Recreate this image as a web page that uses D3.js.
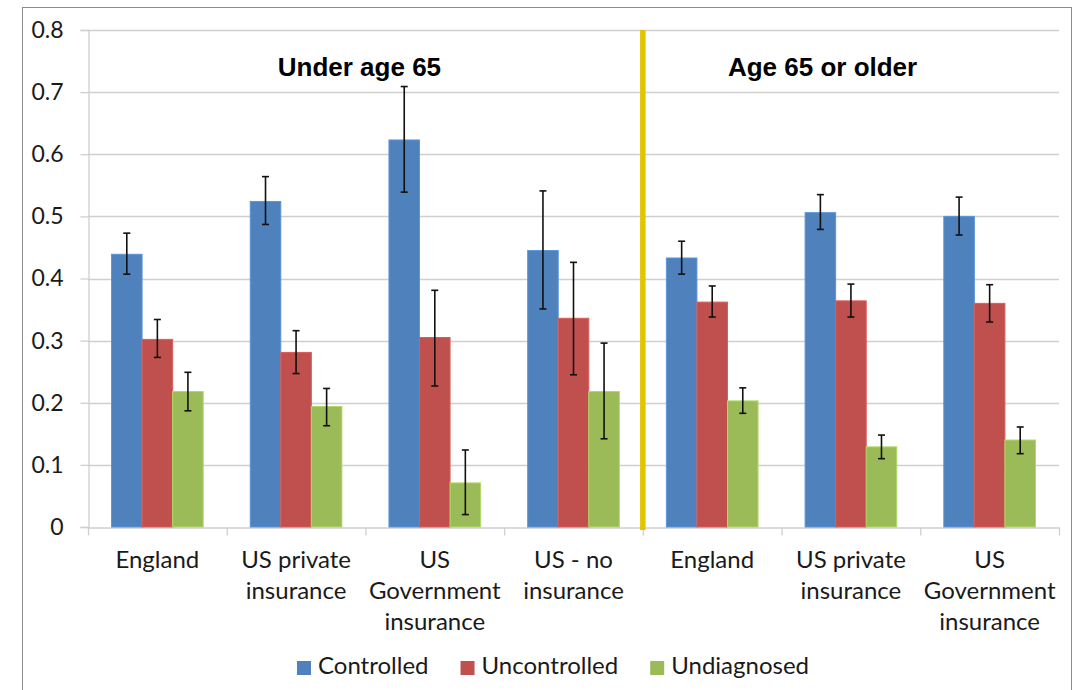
<!DOCTYPE html>
<html lang="en">
  <head>
    <meta charset="utf-8">
    <title>Hypertension control by age and insurance</title>
    <script src="https://d3js.org/d3.v7.min.js"></script>
    <style>
      body { margin: 0; background: #fff; }
      text { font-family: Lato, "Open Sans", sans-serif; fill: #1a1a1a; }
    </style>
  </head>
  <body>
    <script>
      // categories (multi-line labels), 4 under 65, 3 aged 65+
      let categories = ["U65 England", "U65 US private", "U65 US Gov", "U65 US none",
                        "65+ England", "65+ US private", "65+ US Gov"];
      let categoryLabels = [["England"], ["US private", "insurance"], ["US", "Government", "insurance"],
                            ["US - no", "insurance"], ["England"], ["US private", "insurance"],
                            ["US", "Government", "insurance"]];
      let seriesNames = ["Controlled", "Uncontrolled", "Undiagnosed"];
      let seriesColors = ["#4f81bd", "#c0504d", "#9bbb59"];

      let controlled     = [0.439, 0.524, 0.623, 0.445, 0.433, 0.506, 0.500];
      let controlledLow  = [0.407, 0.487, 0.539, 0.351, 0.407, 0.479, 0.470];
      let controlledHigh = [0.473, 0.564, 0.709, 0.541, 0.460, 0.535, 0.531];

      let uncontrolled     = [0.302, 0.281, 0.305, 0.336, 0.362, 0.364, 0.360];
      let uncontrolledLow  = [0.273, 0.247, 0.227, 0.245, 0.338, 0.338, 0.330];
      let uncontrolledHigh = [0.334, 0.316, 0.381, 0.426, 0.388, 0.391, 0.390];

      let undiagnosed     = [0.218, 0.194, 0.071, 0.218, 0.203, 0.129, 0.140];
      let undiagnosedLow  = [0.187, 0.163, 0.020, 0.142, 0.183, 0.110, 0.118];
      let undiagnosedHigh = [0.249, 0.223, 0.124, 0.296, 0.224, 0.148, 0.161];

      let yTicks = [0, 0.1, 0.2, 0.3, 0.4, 0.5, 0.6, 0.7, 0.8];
      let groupTitles = ["Under age 65", "Age 65 or older"];

      let values = [controlled, uncontrolled, undiagnosed];
      let lows = [controlledLow, uncontrolledLow, undiagnosedLow];
      let highs = [controlledHigh, uncontrolledHigh, undiagnosedHigh];

      let width = 1079, height = 690;
      let plot = {left: 88, right: 1059, top: 30, bottom: 527};

      let svg = d3.select("body").append("svg")
                  .attr("width", width)
                  .attr("height", height);

      // outer chart border
      svg.append("rect")
         .attr("x", 22.5).attr("y", 7.5)
         .attr("width", 1049).attr("height", 700)
         .attr("fill", "none").attr("stroke", "#8c8c8c");

      let x = d3.scaleBand().domain(categories).range([plot.left, plot.right]);
      let xs = d3.scaleBand().domain(seriesNames).range([0, x.bandwidth()]).paddingOuter(0.77);
      let y = d3.scaleLinear().domain([0, 0.8]).range([plot.bottom, plot.top]);

      // gridlines
      svg.append("g").selectAll("line")
         .data(yTicks.slice(1))
         .enter().append("line")
         .attr("x1", plot.left).attr("x2", plot.right)
         .attr("y1", d => Math.round(y(d)) + 0.5).attr("y2", d => Math.round(y(d)) + 0.5)
         .attr("stroke", "#cfcfcf").attr("stroke-width", 1.3);

      // y axis
      let yAxis = svg.append("g")
         .attr("transform", "translate(" + (plot.left + 0.5) + ",0)")
         .call(d3.axisLeft(y).tickValues(yTicks).tickSize(8).tickPadding(17)
                 .tickFormat(d => d === 0 ? "0" : d3.format(".1f")(d)));
      yAxis.select(".domain").attr("stroke", "#cfcfcf").attr("stroke-width", 1.3);
      yAxis.selectAll(".tick line").attr("stroke", "#cfcfcf").attr("stroke-width", 1.3);
      yAxis.selectAll(".tick text").attr("font-size", 23).attr("font-family", "Lato").attr("fill", "#1a1a1a");

      // x axis: boundary ticks
      let xb = d3.scaleLinear().domain([0, categories.length]).range([plot.left, plot.right]);
      let xAxis = svg.append("g")
         .attr("transform", "translate(0," + (plot.bottom + 0.5) + ")")
         .call(d3.axisBottom(xb).tickValues(d3.range(categories.length + 1)).tickSize(8).tickSizeOuter(0).tickFormat(""));
      xAxis.select(".domain").attr("stroke", "#cfcfcf").attr("stroke-width", 1.3);
      xAxis.selectAll(".tick line").attr("stroke", "#cfcfcf").attr("stroke-width", 1.3);

      // bars
      let rows = [];
      seriesNames.forEach(function(s, si) {
        categories.forEach(function(c, ci) {
          rows.push({c: c, s: s, si: si, v: values[si][ci], lo: lows[si][ci], hi: highs[si][ci]});
        });
      });

      svg.append("g").selectAll("rect")
         .data(rows)
         .enter().append("rect")
         .attr("x", d => x(d.c) + xs(d.s))
         .attr("y", d => y(d.v))
         .attr("width", xs.bandwidth())
         .attr("height", d => y(0) - y(d.v))
         .attr("fill", d => seriesColors[d.si])
         .attr("stroke", d => d3.color(seriesColors[d.si]).brighter(0.4))
         .attr("stroke-width", 1);

      // error bars
      let eb = svg.append("g").selectAll("g")
         .data(rows)
         .enter().append("g")
         .attr("stroke", "#111").attr("stroke-width", 1.6);
      let cx = d => x(d.c) + xs(d.s) + xs.bandwidth() / 2;
      eb.append("line")
        .attr("x1", cx).attr("x2", cx)
        .attr("y1", d => y(d.lo)).attr("y2", d => y(d.hi));
      eb.append("line")
        .attr("x1", d => cx(d) - 3.5).attr("x2", d => cx(d) + 3.5)
        .attr("y1", d => y(d.hi)).attr("y2", d => y(d.hi));
      eb.append("line")
        .attr("x1", d => cx(d) - 3.5).attr("x2", d => cx(d) + 3.5)
        .attr("y1", d => y(d.lo)).attr("y2", d => y(d.lo));

      // divider between age groups
      let divX = x(categories[4]);
      svg.append("line")
         .attr("x1", divX).attr("x2", divX)
         .attr("y1", plot.top).attr("y2", plot.bottom + 3)
         .attr("stroke", "#e2c400").attr("stroke-width", 5.5);

      // group titles (sit a little left of their group centres)
      let titleX = [x(categories[2]) - 6, x(categories[5]) + 41];
      svg.append("g").selectAll("text")
         .data(groupTitles)
         .enter().append("text")
         .attr("x", (d, i) => titleX[i])
         .attr("y", 76)
         .attr("text-anchor", "middle")
         .style("font-family", "'Liberation Sans', Arial, sans-serif")
         .style("font-weight", "bold")
         .style("font-size", "26px")
         .style("fill", "#000")
         .text(d => d);

      // category labels
      let labs = svg.append("g").selectAll("text")
         .data(categories)
         .enter().append("text")
         .attr("text-anchor", "middle")
         .attr("font-size", 24);
      labs.selectAll("tspan")
          .data((d, i) => categoryLabels[i].map(t => ({t: t, c: d})))
          .enter().append("tspan")
          .attr("x", d => x(d.c) + x.bandwidth() / 2)
          .attr("y", (d, j) => 568 + j * 31)
          .text(d => d.t);

      // legend
      let legend = svg.append("g");
      let lx = 0;
      seriesNames.forEach(function(s, i) {
        let item = legend.append("g").attr("transform", "translate(" + lx + ",0)");
        item.append("rect").attr("x", 0).attr("y", -13).attr("width", 14).attr("height", 14)
            .attr("fill", seriesColors[i]);
        let t = item.append("text").attr("x", 21).attr("y", 0).attr("font-size", 24).text(s);
        lx += 21 + t.node().getComputedTextLength() + 32;
      });
      let legendW = lx - 32;
      legend.attr("transform", "translate(" + (553 - legendW / 2) + ",674)");
    </script>
  </body>
</html>
